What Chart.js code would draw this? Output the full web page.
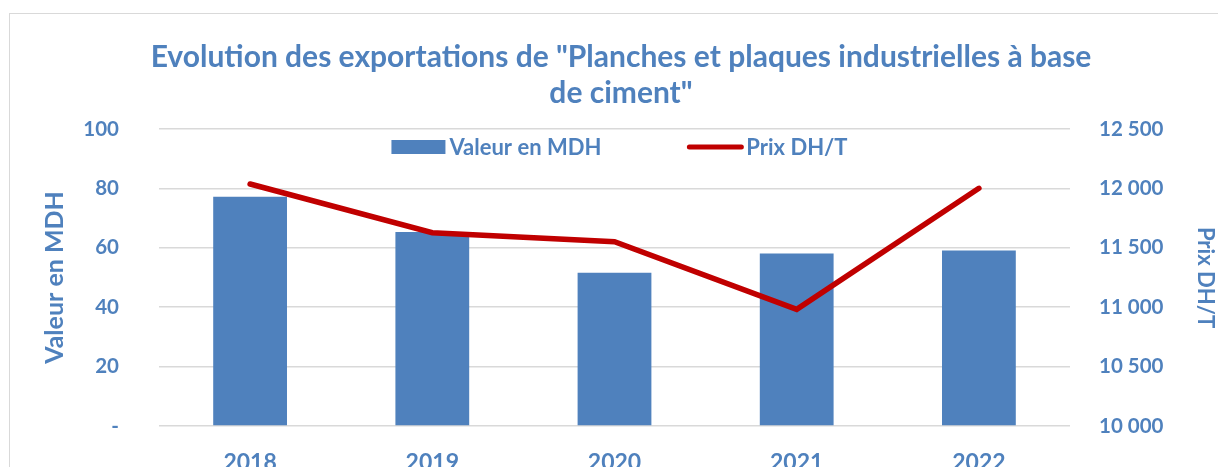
<!DOCTYPE html>
<html><head><meta charset="utf-8">
<script src="https://cdn.jsdelivr.net/npm/chart.js@4.4.0/dist/chart.umd.min.js"></script>
<style>
html,body{margin:0;padding:0;background:#fff;overflow:hidden;width:1218px;height:467px;}
#frame{position:absolute;left:9px;top:13px;width:1400px;height:700px;border:1.5px solid #d9d9d9;box-sizing:border-box;}
#wrap{position:absolute;left:0;top:0;width:1218px;height:467px;}
</style></head>
<body>
<div id="frame"></div>
<div id="wrap"><canvas id="c"></canvas></div>
<script>
const categories = ['2018', '2019', '2020', '2021', '2022'];
const valeurMDH = [77.2, 65.3, 51.6, 58.1, 59.1];
const prixDHT = [12037, 11627, 11551, 10982, 12001];
const titleLines = ['Evolution des exportations de "Planches et plaques industrielles à base', 'de ciment"'];
const leftTicks = [0, 20, 40, 60, 80, 100];
const rightTicks = [10000, 10500, 11000, 11500, 12000, 12500];

const BLUE = '#4F81BD';
const RED = '#C00000';
const FONT = 'Lato';

function fmt(v) { return String(v).replace(/\B(?=(\d{3})+(?!\d))/g, ' '); }

// Legend drawn inside the plot area (like the original), from the datasets' own labels/colours
const innerLegend = {
  id: 'innerLegend',
  afterDatasetsDraw(chart) {
    const ctx = chart.ctx, ca = chart.chartArea;
    ctx.save();
    ctx.font = 'bold 22px ' + FONT;
    ctx.textBaseline = 'middle';
    ctx.textAlign = 'left';
    const items = chart.data.datasets.map(ds => ({ ds, tw: ctx.measureText(ds.label).width }));
    const symW = [54, 56], symGap = [4, 3], itemGap = 86;
    let total = 0;
    items.forEach((it, i) => { total += symW[i] + symGap[i] + it.tw; if (i < items.length - 1) total += itemGap; });
    let x = (ca.left + ca.right) / 2 + 5 - total / 2;
    const y = ca.top + 18;
    items.forEach((it, i) => {
      const ds = it.ds;
      if (ds.type === 'bar') {
        ctx.fillStyle = ds.backgroundColor;
        ctx.fillRect(x, y - 7, symW[i], 14);
      } else {
        ctx.strokeStyle = ds.borderColor;
        ctx.lineWidth = 5;
        ctx.lineCap = 'round';
        ctx.beginPath(); ctx.moveTo(x + 2, y); ctx.lineTo(x + symW[i] - 2, y); ctx.stroke();
      }
      x += symW[i] + symGap[i];
      ctx.fillStyle = BLUE;
      ctx.fillText(ds.label, x, y + 1);
      x += it.tw + itemGap;
    });
    ctx.restore();
  }
};

function noVPad(s) { s.paddingTop = 0; s.paddingBottom = 0; }

new Chart(document.getElementById('c'), {
  data: {
    labels: categories,
    datasets: [
      { type: 'bar', label: 'Valeur en MDH', data: valeurMDH, backgroundColor: BLUE, yAxisID: 'y', order: 1,
        barPercentage: 0.405, categoryPercentage: 1.0 },
      { type: 'line', label: 'Prix DH/T', data: prixDHT, borderColor: RED, backgroundColor: RED, borderWidth: 5.5,
        pointRadius: 0, tension: 0, yAxisID: 'y1', order: 0, borderCapStyle: 'round', borderJoinStyle: 'miter' }
    ]
  },
  plugins: [innerLegend],
  options: {
    responsive: true,
    maintainAspectRatio: false,
    devicePixelRatio: 1,
    animation: false,
    layout: { padding: { left: 24, right: 0, top: 0, bottom: 0 } },
    plugins: {
      tooltip: { enabled: false },
      legend: { display: false },
      title: {
        display: true, text: titleLines, color: BLUE,
        font: { family: FONT, size: 30, weight: 'bold', lineHeight: 1.2 },
        padding: { top: 39, bottom: 18 }
      }
    },
    scales: {
      x: {
        offset: true,
        grid: { display: false, drawTicks: false },
        border: { display: false },
        ticks: { color: BLUE, font: { family: FONT, size: 23, weight: 'bold' }, padding: 23, maxRotation: 0 },
        afterFit: (s) => { s.height = 41; }
      },
      y: {
        position: 'left', min: 0, max: 100,
        afterBuildTicks: (s) => { s.ticks = leftTicks.map(v => ({ value: v })); },
        grid: { color: '#d9d9d9', lineWidth: 1.5, drawTicks: false },
        border: { display: false },
        ticks: { color: BLUE, font: { family: FONT, size: 20.5, weight: 'bold' }, padding: 40,
          callback: (v) => v === 0 ? '-' : String(v) },
        title: { display: true, text: 'Valeur en MDH', color: BLUE, font: { family: FONT, size: 25, weight: 'bold', lineHeight: 1.2 },
          padding: { top: 16, bottom: 0 } },
        afterFit: (s) => { s.width = 135; noVPad(s); }
      },
      y1: {
        position: 'right', min: 10000, max: 12500,
        afterBuildTicks: (s) => { s.ticks = rightTicks.map(v => ({ value: v })); },
        grid: { display: false, drawTicks: false },
        border: { display: false },
        ticks: { color: BLUE, font: { family: FONT, size: 20.5, weight: 'bold' }, padding: 29,
          callback: (v) => fmt(v) },
        title: { display: true, text: 'Prix DH/T', color: BLUE, font: { family: FONT, size: 22, weight: 'bold', lineHeight: 1.2 },
          padding: { top: 0, bottom: 0 } },
        afterFit: (s) => { s.width = 148; noVPad(s); }
      }
    }
  }
});
</script>
</body></html>
